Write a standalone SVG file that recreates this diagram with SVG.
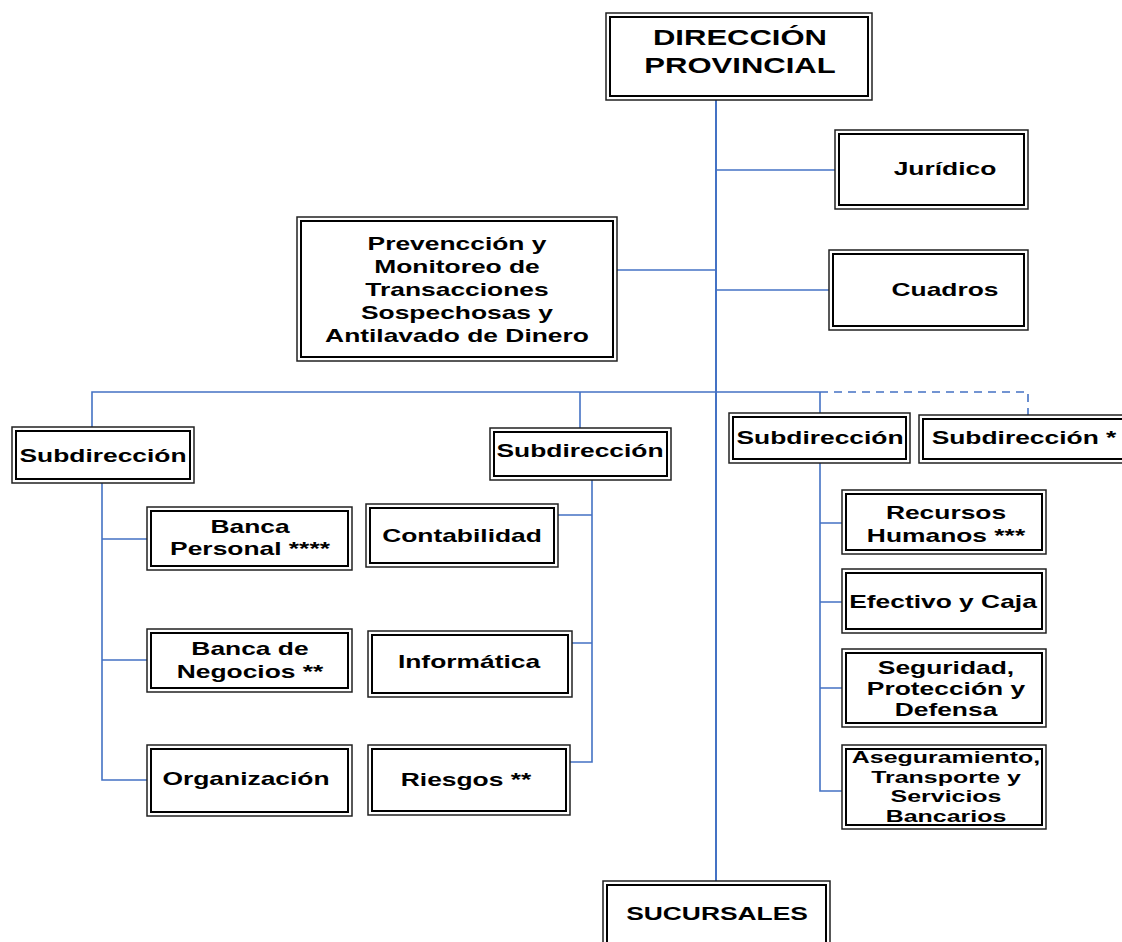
<svg xmlns="http://www.w3.org/2000/svg" width="1122" height="942" viewBox="0 0 1122 942">
<style>
.o{fill:#fff;stroke:#222;stroke-width:1.5}
.i{fill:none;stroke:#000;stroke-width:2}
.t{font-family:"Liberation Sans",Arial,sans-serif;font-weight:bold;font-size:18.2px;fill:#000;text-anchor:middle}
.big{font-size:21.4px}
.sm{font-size:17.2px}
.c{fill:none;stroke:#4472C4;stroke-width:1.6}
.m{stroke-width:2}
.d{stroke-dasharray:8 6}
</style>
<rect width="1122" height="942" fill="#fff"/>
<g id="connectors">
<path class="c m" d="M716,100 V881"/>
<path class="c" d="M716,170 H835"/>
<path class="c" d="M716,290 H829"/>
<path class="c" d="M617,270 H716"/>
<path class="c" d="M92,427 V392 H820"/>
<path class="c" d="M580,392 V428"/>
<path class="c" d="M820,392 V413"/>
<path class="c d" d="M820,392 H1028 V415"/>
<path class="c" d="M102,483 V780 H147 M102,539 H147 M102,660 H147"/>
<path class="c" d="M592,480 V762 H567 M592,515 H558 M592,643 H572"/>
<path class="c" d="M820,463 V791 H842 M820,523 H842 M820,602 H842 M820,688 H842"/>
</g>
<g id="direccion">
<rect class="o" x="606" y="13" width="266" height="87"/><rect class="i" x="610" y="17" width="258" height="79"/>
<text class="t big" transform="translate(740,0) scale(1.45,1)"><tspan x="0" y="45">DIRECCIÓN</tspan><tspan x="0" y="73">PROVINCIAL</tspan></text>
</g>
<g id="juridico">
<rect class="o" x="835" y="130" width="193" height="79"/><rect class="i" x="839" y="134" width="185" height="71"/>
<text class="t" transform="translate(945,175) scale(1.45,1)">Jurídico</text>
</g>
<g id="cuadros">
<rect class="o" x="829" y="250" width="199" height="80"/><rect class="i" x="833" y="254" width="191" height="72"/>
<text class="t" transform="translate(945,296) scale(1.45,1)">Cuadros</text>
</g>
<g id="prevencion">
<rect class="o" x="297" y="217" width="320" height="144"/><rect class="i" x="301" y="221" width="312" height="136"/>
<text class="t" transform="translate(457,0) scale(1.45,1)"><tspan x="0" y="250">Prevencción y</tspan><tspan x="0" y="273">Monitoreo de</tspan><tspan x="0" y="296">Transacciones</tspan><tspan x="0" y="319">Sospechosas y</tspan><tspan x="0" y="342">Antilavado de Dinero</tspan></text>
</g>
<g id="sub1">
<rect class="o" x="12" y="427" width="182" height="56"/><rect class="i" x="16" y="431" width="174" height="48"/>
<text class="t" transform="translate(103,462) scale(1.45,1)">Subdirección</text>
</g>
<g id="sub2">
<rect class="o" x="490" y="428" width="181" height="52"/><rect class="i" x="494" y="432" width="173" height="44"/>
<text class="t" transform="translate(580,457) scale(1.45,1)">Subdirección</text>
</g>
<g id="sub3">
<rect class="o" x="729" y="413" width="181" height="50"/><rect class="i" x="733" y="417" width="173" height="42"/>
<text class="t" transform="translate(820,444) scale(1.45,1)">Subdirección</text>
</g>
<g id="sub4">
<rect class="o" x="919" y="415" width="211" height="48"/><rect class="i" x="923" y="419" width="203" height="40"/>
<text class="t" transform="translate(1024,444) scale(1.45,1)">Subdirección *</text>
</g>
<g id="bancaPersonal">
<rect class="o" x="147" y="507" width="205" height="63"/><rect class="i" x="151" y="511" width="197" height="55"/>
<text class="t" transform="translate(250,0) scale(1.45,1)"><tspan x="0" y="533">Banca</tspan><tspan x="0" y="555">Personal ****</tspan></text>
</g>
<g id="bancaNegocios">
<rect class="o" x="147" y="629" width="205" height="63"/><rect class="i" x="151" y="633" width="197" height="55"/>
<text class="t" transform="translate(250,0) scale(1.45,1)"><tspan x="0" y="655">Banca de</tspan><tspan x="0" y="678">Negocios **</tspan></text>
</g>
<g id="organizacion">
<rect class="o" x="147" y="745" width="205" height="71"/><rect class="i" x="151" y="749" width="197" height="63"/>
<text class="t" transform="translate(246,785) scale(1.45,1)">Organización</text>
</g>
<g id="contabilidad">
<rect class="o" x="366" y="504" width="192" height="63"/><rect class="i" x="370" y="508" width="184" height="55"/>
<text class="t" transform="translate(462,542) scale(1.45,1)">Contabilidad</text>
</g>
<g id="informatica">
<rect class="o" x="368" y="631" width="204" height="66"/><rect class="i" x="372" y="635" width="196" height="58"/>
<text class="t" transform="translate(469,668) scale(1.45,1)">Informática</text>
</g>
<g id="riesgos">
<rect class="o" x="368" y="745" width="202" height="70"/><rect class="i" x="372" y="749" width="194" height="62"/>
<text class="t" transform="translate(466,786) scale(1.45,1)">Riesgos **</text>
</g>
<g id="recursosHumanos">
<rect class="o" x="842" y="490" width="204" height="64"/><rect class="i" x="846" y="494" width="196" height="56"/>
<text class="t" transform="translate(946,0) scale(1.45,1)"><tspan x="0" y="519">Recursos</tspan><tspan x="0" y="542">Humanos ***</tspan></text>
</g>
<g id="efectivo">
<rect class="o" x="842" y="569" width="204" height="64"/><rect class="i" x="846" y="573" width="196" height="56"/>
<text class="t" transform="translate(943,608) scale(1.45,1)">Efectivo y Caja</text>
</g>
<g id="seguridad">
<rect class="o" x="842" y="649" width="204" height="78"/><rect class="i" x="846" y="653" width="196" height="70"/>
<text class="t" transform="translate(946,0) scale(1.45,1)"><tspan x="0" y="674">Seguridad,</tspan><tspan x="0" y="695">Protección y</tspan><tspan x="0" y="716">Defensa</tspan></text>
</g>
<g id="aseguramiento">
<rect class="o" x="842" y="745" width="204" height="84"/><rect class="i" x="846" y="749" width="196" height="76"/>
<text class="t sm" transform="translate(946,0) scale(1.45,1)"><tspan x="0" y="763">Aseguramiento,</tspan><tspan x="0" y="783">Transporte y</tspan><tspan x="0" y="802">Servicios</tspan><tspan x="0" y="822">Bancarios</tspan></text>
</g>
<g id="sucursales">
<rect class="o" x="603" y="881" width="227" height="70"/><rect class="i" x="607" y="885" width="219" height="62"/>
<text class="t" transform="translate(717,920) scale(1.45,1)">SUCURSALES</text>
</g>
</svg>
